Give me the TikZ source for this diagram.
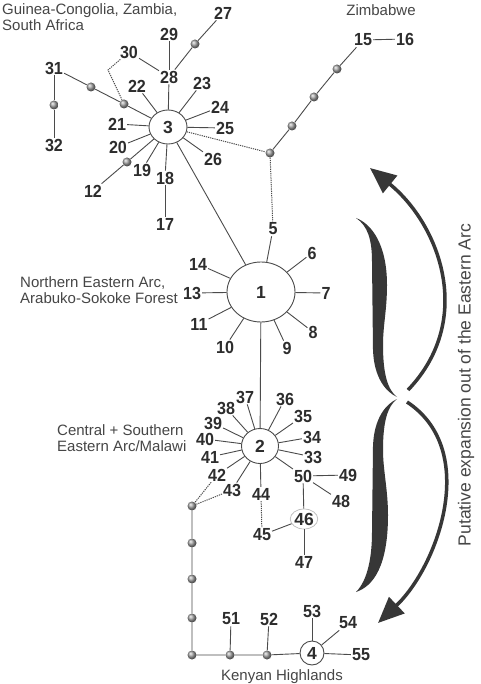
\documentclass[tikz,border=0pt]{standalone}
\usepackage{fontspec}
\setmainfont{Liberation Sans}
\usetikzlibrary{shapes.geometric,arrows.meta,shadings}
\definecolor{linec}{RGB}{75,75,75}
\definecolor{txt}{RGB}{45,45,45}
\definecolor{lbl}{RGB}{70,70,70}
\definecolor{arrc}{RGB}{55,55,55}
\begin{document}
\begin{tikzpicture}[x=1pt,y=-1pt,
  num/.style={font=\fontsize{17.5}{17.5}\selectfont\bfseries, text=txt, inner sep=1pt, xscale=0.92},
  reg/.style={font=\fontsize{15}{16}\selectfont, text=lbl, inner sep=0pt, align=left},
  mv/.style={circle, inner sep=0pt, minimum size=9pt, ball color=gray!75},
  hub/.style={ellipse, draw=linec, line width=0.9pt, fill=white, inner sep=0pt,
              font=\fontsize{17.5}{17.5}\selectfont\bfseries, text=txt},
  ln/.style={draw=linec, line width=0.9pt},
  dl/.style={draw=linec, line width=1pt, dash pattern=on 1.2pt off 1pt},
  arr/.style={draw=arrc, line width=3.5pt, -{Triangle[length=26pt,width=22pt]}}]
\useasboundingbox (0,0) rectangle (480,684);
\fill[white] (0,0) rectangle (480,684);

% region labels
\node[reg, anchor=north west] (rgc) at (2,3) {Guinea-Congolia, Zambia,\\South Africa};
\node[reg, anchor=base] (rzi) at (381,16) {Zimbabwe};
\node[reg, anchor=north west] (rne) at (20,276) {Northern Eastern Arc,\\Arabuko-Sokoke Forest};
\node[reg, anchor=north west] (rcs) at (57,424) {Central + Southern\\Eastern Arc/Malawi};
\node[reg, anchor=base] (rkh) at (282,680) {Kenyan Highlands};

% hubs
\node[hub, minimum width=38pt, minimum height=34pt] (c3) at (168,127) {3};
\node[hub, minimum width=68pt, minimum height=60pt] (c1) at (261,292) {1};
\node[hub, minimum width=37pt, minimum height=35pt] (c2) at (260,446) {2};
\node[hub, minimum width=24pt, minimum height=24pt] (c4) at (312,653) {4};
\node[hub, draw=gray!55, line width=0.7pt, minimum width=20pt, minimum height=20pt] (c46) at (304,519) {46};

% top cluster labels
\node[num] (n27) at (223,13) {27};
\node[num] (n29) at (169,34) {29};
\node[num] (n28) at (169,77) {28};
\node[num] (n30) at (129,52) {30};
\node[num] (n31) at (54,68) {31};
\node[num] (n32) at (54,145) {32};
\node[num] (n22) at (137,86) {22};
\node[num] (n23) at (202,83) {23};
\node[num] (n24) at (220,107) {24};
\node[num] (n25) at (225,128) {25};
\node[num] (n26) at (213,159) {26};
\node[num] (n21) at (117,124) {21};
\node[num] (n20) at (118,147) {20};
\node[num] (n19) at (142,170) {19};
\node[num] (n18) at (165,178) {18};
\node[num] (n17) at (165,224) {17};
\node[num] (n12) at (93,191) {12};
\node[num] (n15) at (363,40) {15};
\node[num] (n16) at (405,39) {16};
\node[num] (n5) at (273,229) {5};

% median vectors top
\node[mv] (dA) at (124,104) {};
\node[mv] (dB) at (91,87) {};
\node[mv] (dC) at (54,105) {};
\node[mv] (dD) at (195,44) {};
\node[mv] (dE) at (127,162) {};
\node[mv] (dF) at (270,153) {};
\node[mv] (dG) at (292,126) {};
\node[mv] (dH) at (314,97) {};
\node[mv] (dI) at (337,69) {};
\coordinate (b30) at (108,70);

% node 1 labels
\node[num] (n6) at (312,253) {6};
\node[num] (n7) at (326,293) {7};
\node[num] (n8) at (313,332) {8};
\node[num] (n9) at (287,348) {9};
\node[num] (n10) at (225,347) {10};
\node[num] (n11) at (199,324) {11};
\node[num] (n13) at (192,293) {13};
\node[num] (n14) at (198,264) {14};

% node 2 labels
\node[num] (n37) at (245,397) {37};
\node[num] (n38) at (226,408) {38};
\node[num] (n39) at (213,423) {39};
\node[num] (n40) at (205,439) {40};
\node[num] (n41) at (210,457) {41};
\node[num] (n42) at (217,475) {42};
\node[num] (n43) at (232,490) {43};
\node[num] (n44) at (261,494) {44};
\node[num] (n36) at (285,399) {36};
\node[num] (n35) at (303,416) {35};
\node[num] (n34) at (312,437) {34};
\node[num] (n33) at (313,457) {33};
\node[num] (n50) at (303,476) {50};
\node[num] (n49) at (348,475) {49};
\node[num] (n48) at (341,501) {48};
\node[num] (n45) at (262,535) {45};
\node[num] (n47) at (304,562) {47};

% bottom chain
\node[mv] (dJ) at (192,506) {};
\node[mv] (dK) at (192,543) {};
\node[mv] (dL) at (192,579) {};
\node[mv] (dM) at (192,618) {};
\node[mv] (dN) at (192,655) {};
\node[mv] (dO) at (230,655) {};
\node[mv] (dP) at (267,655) {};
\node[num] (n51) at (231,619) {51};
\node[num] (n52) at (269,619) {52};
\node[num] (n53) at (312,611) {53};
\node[num] (n54) at (348,623) {54};
\node[num] (n55) at (361,655) {55};

% connectors top cluster
\draw[ln] (n27) -- (dD) -- (n28);
\draw[ln] (n29) -- (n28);
\draw[ln] (n28) -- (c3);
\draw[ln] (n30) -- (n28);
\draw[dl] (n30) -- (b30) -- (dA);
\draw[ln] (n31) -- (dB) -- (dA) -- (c3);
\draw[ln] (n31) -- (dC) -- (n32);
\foreach \k in {22,23,24,25,26,21,20,19,18} \draw[ln] (c3) -- (n\k);
\draw[ln] (n18) -- (n17);
\draw[ln] (c3) -- (dE) -- (n12);
\draw[dl] (c3) -- (dF);
\draw[dl] (dF) -- (n5);
\draw[ln] (dF) -- (dG) -- (dH) -- (dI) -- (n15);
\draw[ln] (n15) -- (n16);
\draw[ln] (c3) -- (c1);

% node 1 connectors
\foreach \k in {5,6,7,8,9,10,11,13,14} \draw[ln] (c1) -- (n\k);
\draw[ln] (c1) -- (c2);

% node 2 connectors
\foreach \k in {37,38,39,40,41,42,43,44,36,35,34,33,50} \draw[ln] (c2) -- (n\k);
\draw[ln] (n50) -- (n49);
\draw[ln] (n50) -- (n48);
\draw[ln] (n50) -- (c46);
\draw[ln] (c46) -- (n47);
\draw[ln] (c46) -- (n45);
\draw[dl] (n44) -- (n45);
\draw[dl] (n42) -- (dJ);
\draw[dl] (n43) -- (dJ);
\draw[ln] (dJ) -- (dK) -- (dL) -- (dM) -- (dN) -- (dO) -- (dP) -- (c4);
\draw[ln] (n51) -- (dO);
\draw[ln] (n52) -- (dP);
\draw[ln] (c4) -- (n53);
\draw[ln] (c4) -- (n54);
\draw[ln] (c4) -- (n55);

% brace
\fill[arrc] (356,218) .. controls (368,226) and (372,240) .. (372,262)
  -- (373,350) .. controls (374,378) and (386,392) .. (397,397)
  .. controls (388,390) and (383,375) .. (383,345)
  .. controls (383,325) and (387,310) .. (387,285)
  .. controls (387,245) and (372,224) .. (356,218) -- cycle;
\fill[arrc] (397,399) .. controls (386,404) and (374,418) .. (373,446)
  -- (372,532) .. controls (372,556) and (368,580) .. (356,592)
  .. controls (374,586) and (388,565) .. (388,515)
  .. controls (388,490) and (383,470) .. (383,450)
  .. controls (383,420) and (388,406) .. (397,399) -- cycle;

% arrows
\coordinate (g1) at (408,390);
\coordinate (t1) at (370,168);
\coordinate (g2) at (407,402);
\coordinate (t2) at (378,623);
\draw[arr] (g1) .. controls (475,320) and (440,225) .. (t1);
\draw[arr] (g2) .. controls (480,450) and (438,566) .. (t2);

\node[rotate=90, font=\fontsize{17.5}{17.5}\selectfont, text=lbl, inner sep=0pt] (vt) at (466,385) {Putative expansion out of the Eastern Arc};
\end{tikzpicture}
\end{document}
